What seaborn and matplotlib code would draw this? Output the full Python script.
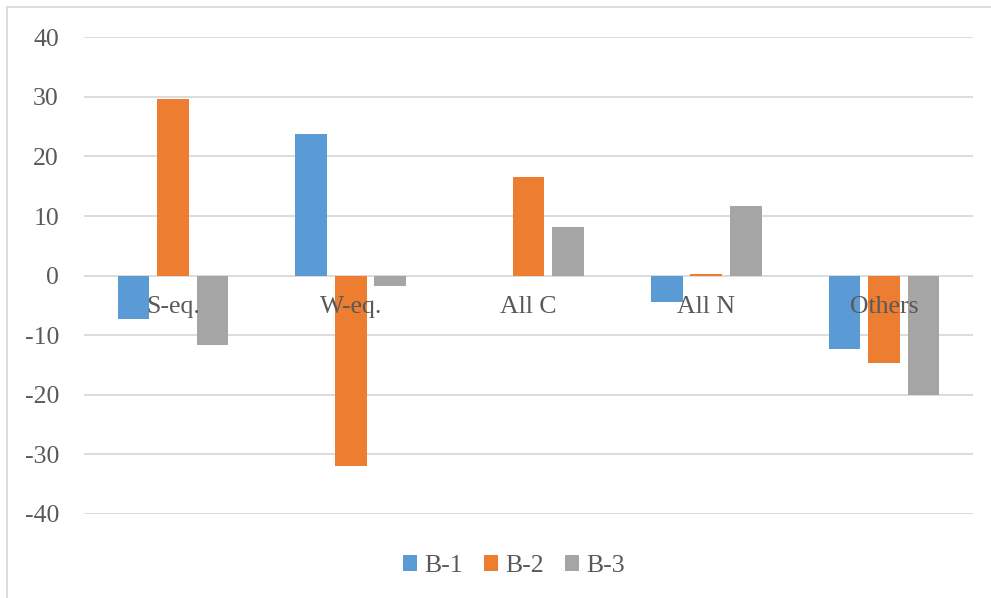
import matplotlib
matplotlib.use("Agg")
import matplotlib.pyplot as plt
from matplotlib.patches import Patch, Rectangle
import seaborn as sns
import pandas as pd

categories = ["S-eq.", "W-eq.", "All C", "All N", "Others"]
series_names = ["B-1", "B-2", "B-3"]
b1_values = [-7.3, 23.8, 0.0, -4.5, -12.3]
b2_values = [29.6, -32.0, 16.6, 0.2, -14.7]
b3_values = [-11.7, -1.7, 8.2, 11.7, -20.0]
y_ticks = [-40, -30, -20, -10, 0, 10, 20, 30, 40]
colors = ["#5B9BD5", "#ED7D31", "#A5A5A5"]

rows = []
for name, vals in zip(series_names, [b1_values, b2_values, b3_values]):
    for cat, v in zip(categories, vals):
        rows.append({"category": cat, "series": name, "value": v})
df = pd.DataFrame(rows)

sns.set_theme(style="white")
plt.rcParams["font.family"] = ["Liberation Serif", "DejaVu Serif"]
text_color = "#595959"
grid_color = "#D9D9D9"
fs = 18.5

fig = plt.figure(figsize=(9.91, 5.98), dpi=100)
ax = fig.add_axes([84 / 991, 1 - 514 / 598, (973 - 84) / 991, (514 - 37.3) / 598])

sns.barplot(data=df, x="category", y="value", hue="series", order=categories,
            hue_order=series_names, palette=colors, width=0.667, gap=0.2,
            linewidth=0, saturation=1, ax=ax, legend=False, zorder=3)

ax.set_ylim(-40, 40)
ax.set_xlim(-0.5, len(categories) - 0.5)
ax.set_yticks(y_ticks)
ax.set_yticklabels([str(t) for t in y_ticks], fontsize=fs, color=text_color)
ax.tick_params(axis="y", length=0, pad=18)
ax.set_xticks([])
ax.set_xlabel("")
ax.set_ylabel("")
for s in ax.spines.values():
    s.set_visible(False)
for t in y_ticks:
    ax.axhline(t, color=grid_color, linewidth=1.3, zorder=1)

# category names sit just under the zero line
for i, cat in enumerate(categories):
    ax.text(i, -5.2, cat, ha="center", va="center", fontsize=fs,
            color=text_color, zorder=5)

handles = [Patch(facecolor=c, edgecolor="none") for c in colors]
fig.legend(handles, series_names, loc="center", ncol=3,
           bbox_to_anchor=(514 / 991, 1 - 566 / 598), frameon=False,
           fontsize=fs, handlelength=0.55, handleheight=0.55,
           handletextpad=0.3, columnspacing=0.8, labelcolor=text_color)

# chart-area border
fig.patches.append(Rectangle((7 / 991, -0.05), 1.1, 1 - 7 / 598 + 0.05,
                             transform=fig.transFigure, fill=False,
                             edgecolor=grid_color, linewidth=1.3))

fig.savefig("out.png", dpi=100, facecolor="white")
